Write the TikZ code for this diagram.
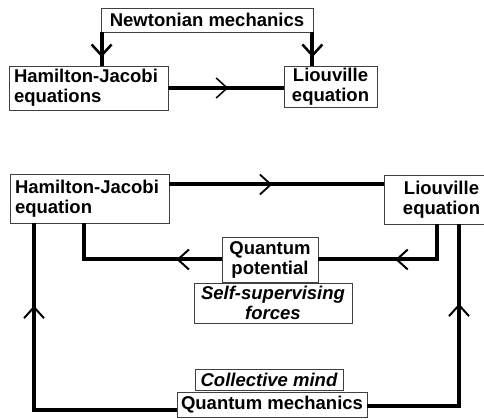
\documentclass[tikz,border=0pt]{standalone}
\usepackage{fontspec}
\setmainfont{Liberation Sans}
\usetikzlibrary{arrows.meta,positioning,decorations.markings}

\begin{document}
\begin{tikzpicture}[x=1pt, y=-1pt, every node/.style={font=\fontsize{18.5}{20}\selectfont\bfseries},
  midtip/.style 2 args={postaction={decorate, decoration={markings,
    mark=at position #1 with {\arrow{Straight Barb[length=11pt, width=20pt, line width=#2]}}}}}]

\tikzstyle{eqbox} = [rectangle, draw=black!75, line width=0.8pt, fill=white, inner sep=1pt, align=center]
\tikzstyle{leftbox} = [eqbox, align=left, inner xsep=5pt]
\tikzstyle{arrow} = [line width=4pt, black]

\useasboundingbox (0,0) rectangle (484,419);

% Top diagram
\node[eqbox, minimum width=212pt, minimum height=24pt] (newton) at (207,20) {Newtonian mechanics};
\node[leftbox, text width=149pt, minimum height=44pt] (hj1) at (88.5,88) {Hamilton-Jacobi\\equations};
\node[eqbox, text width=91pt, minimum height=41pt] (li1) at (330.5,86.5) {Liouville\\equation};

% Bottom diagram
\node[leftbox, text width=149pt, minimum height=49pt] (hj2) at (89.5,198.5) {Hamilton-Jacobi\\equation};
\node[eqbox, text width=113pt, minimum height=49pt] (li2) at (441.5,199.5) {Liouville\\equation};
\node[eqbox, text width=94pt, minimum height=45pt] (qpot) at (270,259.5) {Quantum\\potential};
\node[eqbox, text width=156pt, minimum height=40pt, font=\fontsize{18.5}{20}\selectfont\bfseries\itshape] (self) at (273,303) {Self-supervising\\forces};
\node[eqbox, minimum width=148pt, minimum height=21pt, font=\fontsize{18.5}{20}\selectfont\bfseries\itshape] (coll) at (269,379.5) {Collective mind};
\node[eqbox, minimum width=190pt, minimum height=25pt] (qm) at (272,404.5) {Quantum mechanics};

% Arrows
\draw[arrow, midtip={0.75}{2.5pt}] ([xshift=1pt]newton.south west) -- ([xshift=1pt]newton.south west |- hj1.north);
\draw[arrow, midtip={0.75}{2.5pt}] ([xshift=-1pt]newton.south east) -- ([xshift=-1pt]newton.south east |- li1.north);
\draw[arrow, midtip={0.52}{1.5pt}] (hj1.east) -- (hj1.east -| li1.west);

\draw[arrow, midtip={0.48}{1.8pt}] ([yshift=14pt]hj2.east) -- ([yshift=14pt]hj2.east -| li2.west);
\draw[arrow, midtip={0.5}{2pt}] ([xshift=-4.5pt]li2.south) |- (qpot.east);
\draw[arrow, midtip={0.26}{2pt}] (qpot.west) -| ([xshift=-5.5pt]hj2.south);
\draw[arrow, midtip={0.75}{2pt}] ([yshift=-5.5pt]qm.west) -| ([xshift=-55.5pt]hj2.south);
\draw[arrow, midtip={0.71}{2pt}] ([yshift=-1.5pt]qm.east) -| ([xshift=17.5pt]li2.south);

\end{tikzpicture}
\end{document}
